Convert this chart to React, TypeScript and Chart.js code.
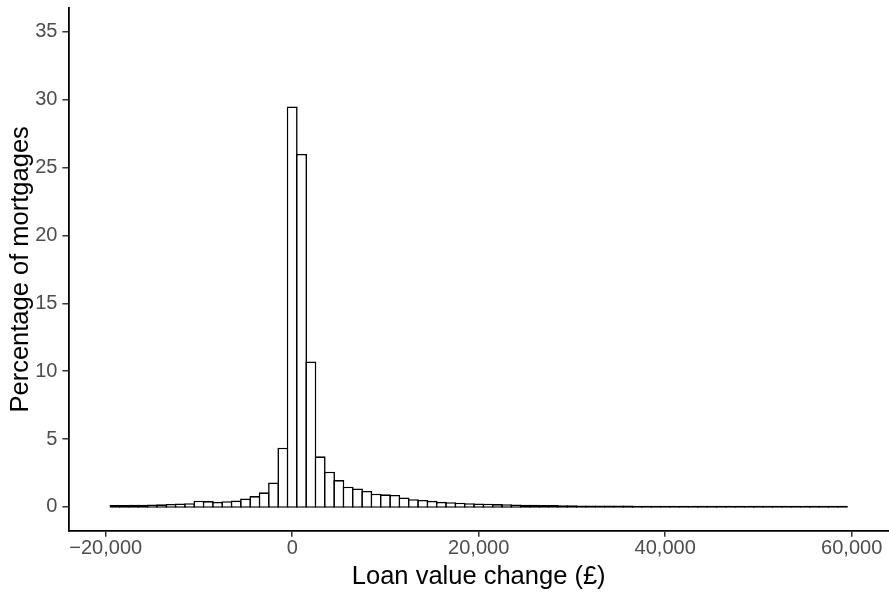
import React, { useEffect, useRef } from "react";
import { Chart, registerables } from "chart.js";

Chart.register(...registerables);

const binCenters: number[] = [
  -19000, -18000, -17000, -16000, -15000, -14000, -13000, -12000, -11000, -10000,
  -9000, -8000, -7000, -6000, -5000, -4000, -3000, -2000, -1000, 0,
  1000, 2000, 3000, 4000, 5000, 6000, 7000, 8000, 9000, 10000,
  11000, 12000, 13000, 14000, 15000, 16000, 17000, 18000, 19000, 20000,
  21000, 22000, 23000, 24000, 25000, 26000, 27000, 28000, 29000, 30000,
  31000, 32000, 33000, 34000, 35000, 36000, 37000, 38000, 39000, 40000,
  41000, 42000, 43000, 44000, 45000, 46000, 47000, 48000, 49000, 50000,
  51000, 52000, 53000, 54000, 55000, 56000, 57000, 58000, 59000,
];

const percentages: number[] = [
  0.15, 0.15, 0.16, 0.16, 0.18, 0.19, 0.22, 0.26, 0.28, 0.46,
  0.43, 0.37, 0.42, 0.47, 0.62, 0.8, 1.08, 1.8, 4.36, 29.5,
  26.0, 10.72, 3.73, 2.6, 1.98, 1.49, 1.36, 1.18, 0.98, 0.93,
  0.88, 0.7, 0.57, 0.51, 0.45, 0.38, 0.35, 0.31, 0.28, 0.26,
  0.24, 0.21, 0.2, 0.18, 0.17, 0.17, 0.15, 0.14, 0.13, 0.12,
  0.11, 0.11, 0.1, 0.11, 0.11, 0.1, 0.09, 0.09, 0.09, 0.08,
  0.08, 0.08, 0.08, 0.08, 0.08, 0.08, 0.08, 0.09, 0.09, 0.08,
  0.09, 0.09, 0.09, 0.09, 0.09, 0.09, 0.09, 0.09, 0.08,
];

const xTickValues: number[] = [-20000, 0, 20000, 40000, 60000];
const yTickValues: number[] = [0, 5, 10, 15, 20, 25, 30, 35];

const xTitle = "Loan value change (£)";
const yTitle = "Percentage of mortgages";

function formatX(v: number): string {
  const s = Math.abs(v).toLocaleString("en-US");
  return v < 0 ? "\u2212" + s : s;
}

export default function App() {
  const ref = useRef<HTMLCanvasElement | null>(null);

  useEffect(() => {
    if (!ref.current) return;
    const family = "'Liberation Sans', Arial, sans-serif";
    const tickFont = { family, size: 20 };
    const titleFont = { family, size: 25.5 };
    const bw = 1.6;
    const binPx = 9.33;
    const chart = new Chart(ref.current, {
      type: "bar",
      data: {
        datasets: [
          {
            data: binCenters.map((x, i) => ({ x, y: percentages[i] })),
            backgroundColor: "#ffffff",
            borderColor: "#000000",
            borderWidth: bw,
            borderSkipped: false,
            inflateAmount: 0,
            base: -0.06,
            categoryPercentage: 1,
            barPercentage: (binPx + bw) / binPx,
          } as any,
        ],
      },
      options: {
        animation: false,
        responsive: false,
        layout: { padding: { top: 8, right: 0, left: 0, bottom: 0 } },
        plugins: { legend: { display: false }, tooltip: { enabled: false } },
        scales: {
          x: {
            type: "linear",
            offset: false,
            min: -24000,
            max: 64000,
            afterFit: (s: any) => {
              s.height = 61.3;
              s.paddingLeft = 0;
              s.paddingRight = 0;
            },
            afterBuildTicks: (s: any) => {
              s.ticks = xTickValues.map((v) => ({ value: v }));
            },
            ticks: {
              font: tickFont,
              color: "#4D4D4D",
              padding: 0,
              maxRotation: 0,
              autoSkip: false,
              callback: (v: any) => formatX(Number(v)),
            },
            grid: {
              offset: false,
              drawOnChartArea: false,
              drawTicks: true,
              tickLength: 6,
              color: "#333333",
              lineWidth: 1.5,
            },
            border: { display: true, color: "#000000", width: 1.8 },
            title: {
              display: true,
              text: xTitle,
              color: "#000000",
              font: titleFont,
              padding: { top: 0, bottom: 0 },
            },
          },
          y: {
            type: "linear",
            min: -1.75,
            max: 36.75,
            afterFit: (s: any) => {
              s.width = 68.4;
              s.paddingTop = 0;
              s.paddingBottom = 0;
            },
            afterBuildTicks: (s: any) => {
              s.ticks = yTickValues.map((v) => ({ value: v }));
            },
            ticks: {
              font: tickFont,
              color: "#4D4D4D",
              padding: 5,
              autoSkip: false,
            },
            grid: {
              drawOnChartArea: false,
              drawTicks: true,
              tickLength: 6,
              color: "#333333",
              lineWidth: 1.5,
            },
            border: { display: true, color: "#000000", width: 1.8 },
            title: {
              display: true,
              text: yTitle,
              color: "#000000",
              font: titleFont,
              padding: { top: 6, bottom: 0 },
            },
          },
        },
      },
    });
    return () => chart.destroy();
  }, []);

  return (
    <canvas
      ref={ref}
      width={889}
      height={592}
      style={{ position: "fixed", left: 0, top: 0, width: 889, height: 592, display: "block", background: "#fff" }}
    />
  );
}
